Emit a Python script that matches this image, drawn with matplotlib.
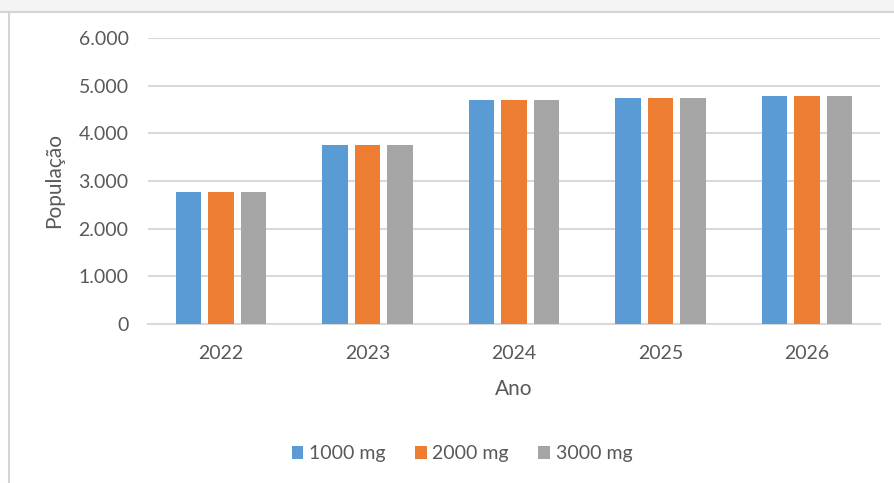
import matplotlib
matplotlib.use("Agg")
import matplotlib.pyplot as plt
from matplotlib.patches import Rectangle
from matplotlib.lines import Line2D
import numpy as np

anos = ["2022", "2023", "2024", "2025", "2026"]
series_names = ["1000 mg", "2000 mg", "3000 mg"]
pop_1000 = [2770, 3750, 4700, 4745, 4775]
pop_2000 = [2770, 3750, 4700, 4745, 4775]
pop_3000 = [2770, 3750, 4700, 4745, 4775]
y_ticks = [0, 1000, 2000, 3000, 4000, 5000, 6000]
y_tick_labels = ["0", "1.000", "2.000", "3.000", "4.000", "5.000", "6.000"]

colors = ["#5B9BD5", "#ED7D31", "#A5A5A5"]
text_color = "#595959"
plt.rcParams["font.family"] = ["Lato", "DejaVu Sans"]

W, H = 894, 483
fig = plt.figure(figsize=(W / 100, H / 100), dpi=100)
fig.patch.set_facecolor("white")

# top strip (background outside the chart frame)
fig.patches.append(Rectangle((0, 1 - 11 / H), 1, 11 / H, transform=fig.transFigure,
                             facecolor="#f4f4f4", edgecolor="none", zorder=0))
fig.lines.append(Line2D([0, 1], [1 - 11.5 / H, 1 - 11.5 / H], transform=fig.transFigure,
                        color="#d4d4d4", lw=1.5))
fig.lines.append(Line2D([8.5 / W, 8.5 / W], [0, 1 - 11.5 / H], transform=fig.transFigure,
                        color="#d4d4d4", lw=1.5))

ax = fig.add_axes([148 / W, 1 - 324 / H, (880 - 148) / W, (324 - 38) / H])
x = np.arange(len(anos))
bw = 25.5 / 146.5
step = 32.5 / 146.5
for i, (vals, c, name) in enumerate(zip([pop_1000, pop_2000, pop_3000], colors, series_names)):
    ax.bar(x + (i - 1) * step, vals, width=bw, color=c, label=name, zorder=3)

ax.set_xlim(-0.5, len(anos) - 0.5)
ax.set_ylim(0, 6000)
ax.set_yticks(y_ticks)
ax.set_yticklabels(y_tick_labels)
ax.set_xticks(x)
ax.set_xticklabels(anos)
ax.yaxis.grid(True, color="#d9d9d9", lw=1.5, zorder=0)
ax.set_axisbelow(True)
for s in ["top", "right", "left"]:
    ax.spines[s].set_visible(False)
ax.spines["bottom"].set_color("#d9d9d9")
ax.spines["bottom"].set_linewidth(1.5)
ax.tick_params(axis="both", length=0, colors=text_color, labelsize=14)
ax.tick_params(axis="y", pad=14)
ax.tick_params(axis="x", pad=15)

ax.set_ylabel("População", color=text_color, fontsize=15, labelpad=10)
ax.set_xlabel("Ano", color=text_color, fontsize=15, labelpad=12)

leg = fig.legend(loc="center", bbox_to_anchor=(462 / W, 1 - 454 / H), ncol=3, frameon=False,
                 fontsize=14, handlelength=0.6, handleheight=0.6, handletextpad=0.3,
                 columnspacing=1.5)
for t in leg.get_texts():
    t.set_color(text_color)

fig.savefig("out.png", dpi=100, facecolor=fig.get_facecolor())
